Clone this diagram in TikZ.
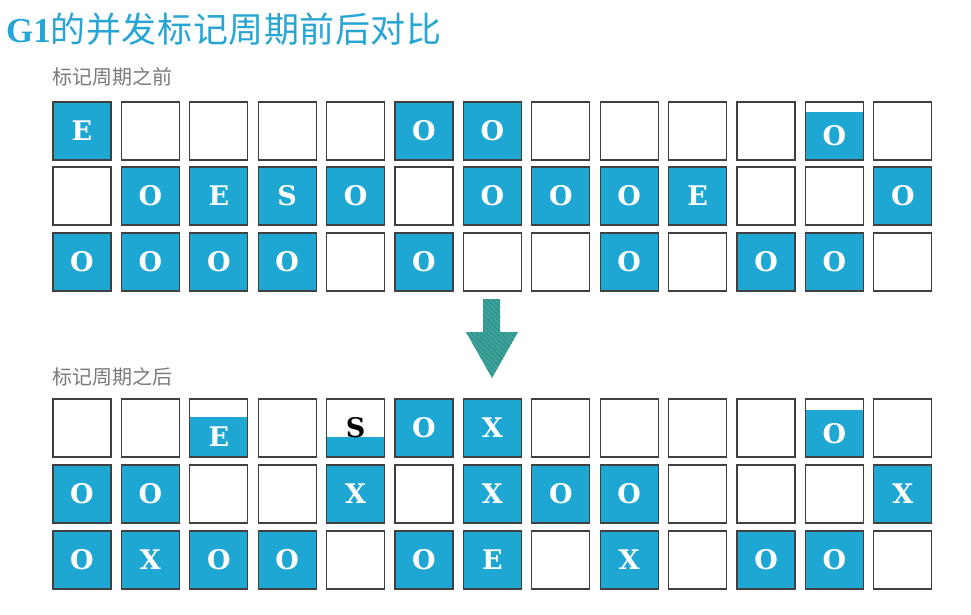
\documentclass[tikz,border=0pt]{standalone}
\usepackage{fontspec}
\usetikzlibrary{patterns.meta}
\newfontfamily\cjk{Noto Sans CJK SC}
\newfontfamily\cjktitle{Noto Sans CJK SC}[LetterSpace=1.5]
\newfontfamily\serifb{DejaVu Serif}[BoldFont={DejaVu Serif Bold}]
\newfontfamily\titleg{Liberation Serif}
\definecolor{cellblue}{HTML}{1FA7D4}
\definecolor{titleblue}{HTML}{27A5D4}
\definecolor{cellborder}{HTML}{404040}
\definecolor{subgray}{HTML}{7A7A7A}
\definecolor{arrowteal}{HTML}{3BA39A}
\definecolor{stripeteal}{HTML}{2F8E87}
\tikzset{
  cell/.style={draw=cellborder, line width=1.2pt, minimum width=58pt, minimum height=58pt,
    inner sep=0pt, font=\serifb\bfseries\fontsize{27}{27}\selectfont, text=white},
  full/.style={cell, fill=cellblue},
  empty/.style={cell, fill=white},
  part/.style={cell, fill=white, path picture={\fill[cellblue]
      ([yshift=-#1]path picture bounding box.north west) rectangle (path picture bounding box.south east);}},
  lbl/.style={inner sep=0pt, font=\serifb\bfseries\fontsize{27}{27}\selectfont, text=white},
  sub/.style={anchor=base west, inner sep=0pt, text=subgray, font=\cjk\fontsize{20}{20}\selectfont},
}
\begin{document}
\begin{tikzpicture}[x=1pt,y=-1pt]
\useasboundingbox (0,0) rectangle (971,614);
\fill[white] (0,0) rectangle (971,614);
% title
\node[anchor=base west, inner sep=0pt, text=titleblue] (title) at (6,42)
  {{\titleg\bfseries\fontsize{35}{35}\selectfont G1}{\cjktitle\fontsize{35}{35}\selectfont 的并发标记周期前后对比}};
\node[sub] (before) at (52,84) {标记周期之前};
\node[sub] (after) at (52,384) {标记周期之后};
% ---------- before ----------
% row 1 (y=131)
\foreach \i/\t in {1/E,6/O,7/O} \node[full] (a1-\i) at ({82+68.4*(\i-1)},131) {\t};
\foreach \i in {2,3,4,5,8,9,10,11,13} \node[empty] (a1-\i) at ({82+68.4*(\i-1)},131) {};
\node[part=10pt] (a1-12) at ({82+68.4*11},131) {};
\node[lbl] (a1-12t) at ({82+68.4*11},136) {O};
% row 2 (y=196)
\foreach \i/\t in {2/O,3/E,4/S,5/O,7/O,8/O,9/O,10/E,13/O} \node[full] (a2-\i) at ({82+68.4*(\i-1)},196) {\t};
\foreach \i in {1,6,11,12} \node[empty] (a2-\i) at ({82+68.4*(\i-1)},196) {};
% row 3 (y=262)
\foreach \i/\t in {1/O,2/O,3/O,4/O,6/O,9/O,11/O,12/O} \node[full] (a3-\i) at ({82+68.4*(\i-1)},262) {\t};
\foreach \i in {5,7,8,10,13} \node[empty] (a3-\i) at ({82+68.4*(\i-1)},262) {};
% ---------- arrow ----------
\path[fill=arrowteal, postaction={pattern={Lines[angle=-45,distance=3.5pt,line width=1pt]}, pattern color=stripeteal}]
  (483,299) -- (500,299) -- (500,332) -- (518,332) -- (492,378) -- (466,332) -- (483,332) -- cycle;
% ---------- after ----------
% row 1 (y=428)
\foreach \i/\t in {6/O,7/X} \node[full] (b1-\i) at ({82+68.4*(\i-1)},428) {\t};
\foreach \i in {1,2,4,8,9,10,11,13} \node[empty] (b1-\i) at ({82+68.4*(\i-1)},428) {};
\node[part=18pt] (b1-3) at ({82+68.4*2},428) {};
\node[lbl] (b1-3t) at ({82+68.4*2},437) {E};
\node[part=38pt] (b1-5) at ({82+68.4*4},428) {};
\node[lbl, text=black] (b1-5t) at ({82+68.4*4},428) {S};
\node[part=11pt] (b1-12) at ({82+68.4*11},428) {};
\node[lbl] (b1-12t) at ({82+68.4*11},434) {O};
% row 2 (y=494)
\foreach \i/\t in {1/O,2/O,5/X,7/X,8/O,9/O,13/X} \node[full] (b2-\i) at ({82+68.4*(\i-1)},494) {\t};
\foreach \i in {3,4,6,10,11,12} \node[empty] (b2-\i) at ({82+68.4*(\i-1)},494) {};
% row 3 (y=560)
\foreach \i/\t in {1/O,2/X,3/O,4/O,6/O,7/E,9/X,11/O,12/O} \node[full] (b3-\i) at ({82+68.4*(\i-1)},560) {\t};
\foreach \i in {5,8,10,13} \node[empty] (b3-\i) at ({82+68.4*(\i-1)},560) {};
\end{tikzpicture}
\end{document}
